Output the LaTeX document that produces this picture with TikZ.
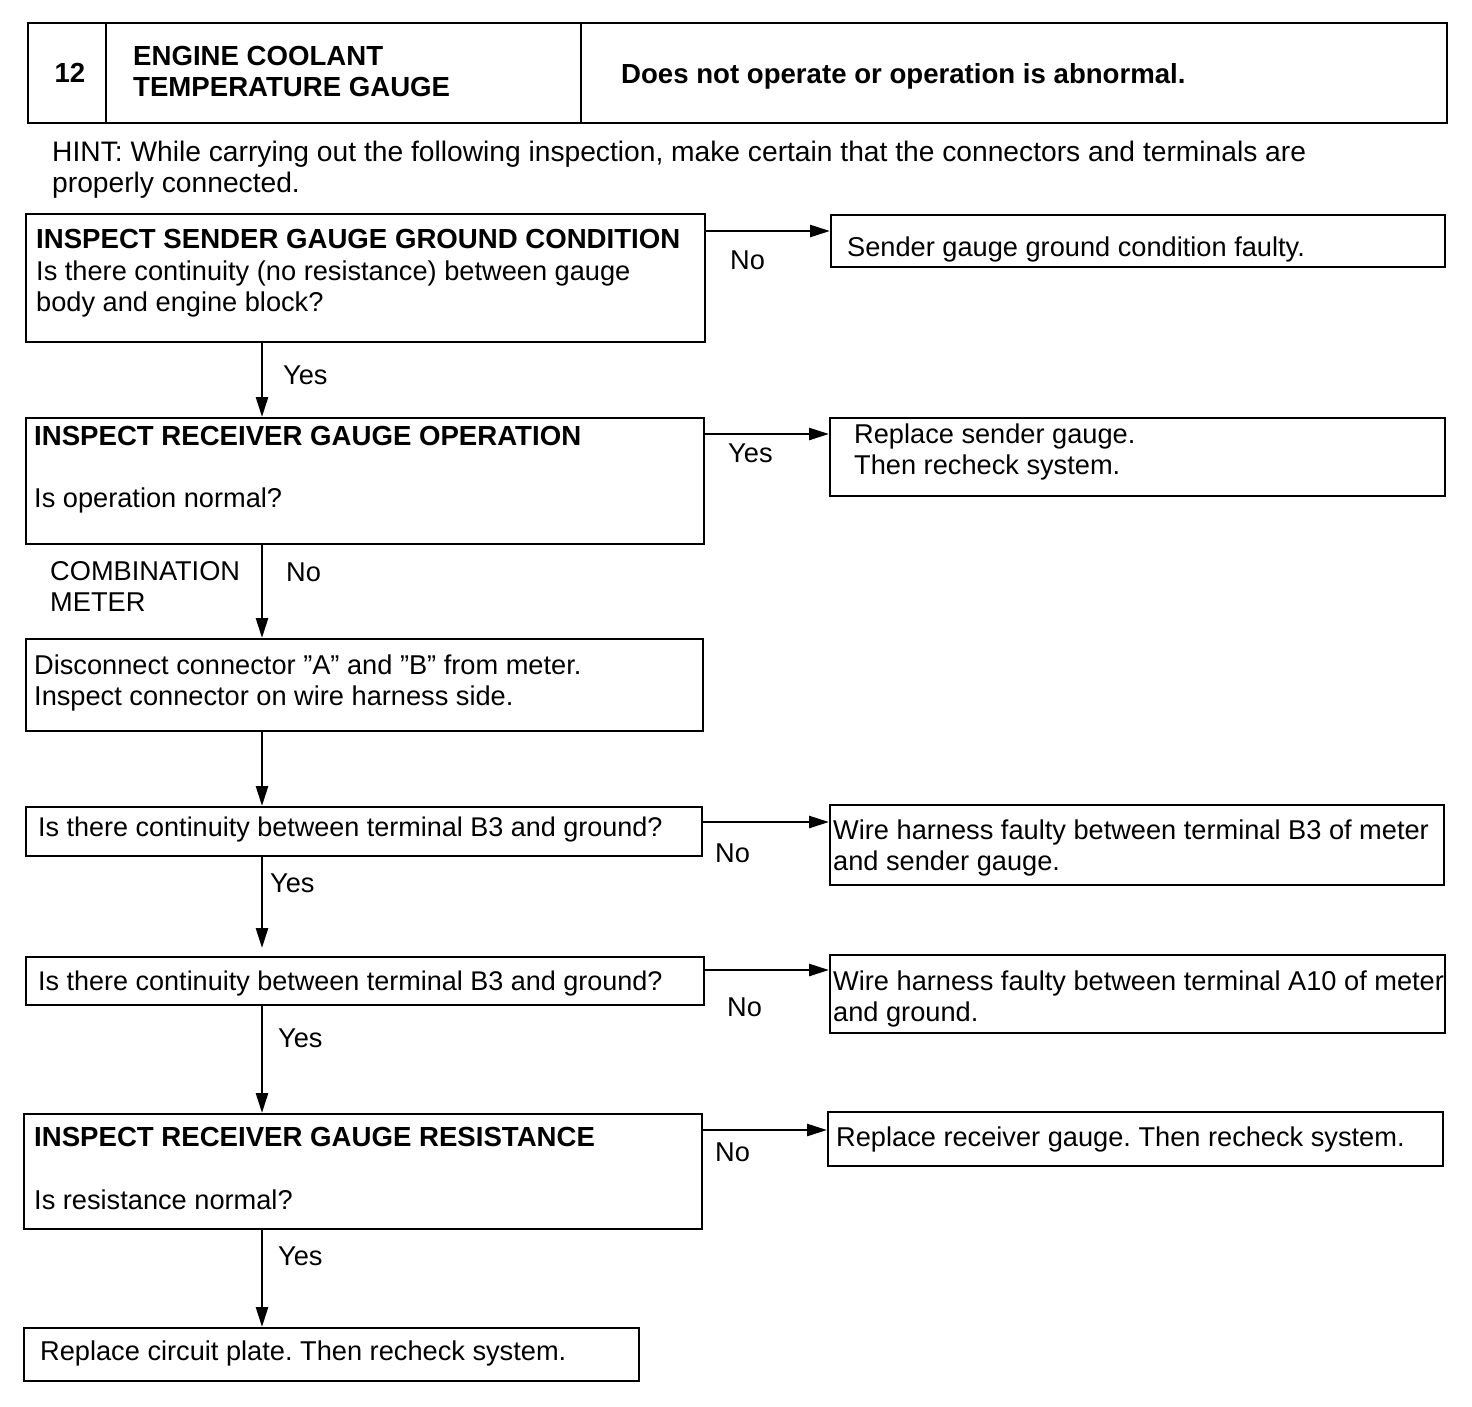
\documentclass[tikz,border=0pt]{standalone}
\usepackage{fontspec}
\setmainfont{Liberation Sans}
\usetikzlibrary{arrows.meta}
\frenchspacing
\begin{document}
\begin{tikzpicture}[x=1pt,y=-1pt,
  box/.style={draw, line width=1.8pt, inner sep=0pt, anchor=north west},
  txt/.style={inner sep=0pt, anchor=base west, align=left, font=\fontsize{27.2}{31}\selectfont},
  btxt/.style={txt, font=\fontsize{27.6}{31}\selectfont\bfseries},
  lbl/.style={txt},
  arr/.style={line width=2.6pt, -{Triangle[length=20pt,width=12pt]}}]
\useasboundingbox (0,0) rectangle (1472,1406);
\fill[white] (0,0) rectangle (1472,1406);
% header
\node[box, line width=2.2pt, minimum width=1419pt, minimum height=100pt] (hdr) at (27,22) {};
\coordinate (d1) at (106,0);
\coordinate (d2) at (581,0);
\draw[line width=2.2pt] (hdr.north -| d1) -- (hdr.south -| d1);
\draw[line width=2.2pt] (hdr.north -| d2) -- (hdr.south -| d2);
\node[btxt, anchor=base] (num) at (70,82) {12};
\node[btxt] (title) at (133,96) {ENGINE COOLANT\\TEMPERATURE GAUGE};
\node[btxt] (sym) at (621,83) {Does not operate or operation is abnormal.};
\node[txt, font=\fontsize{28.2}{31}\selectfont] (hint) at (52,192) {HINT: While carrying out the following inspection, make certain that the connectors and terminals are\\properly connected.};
% boxes
\node[box, minimum width=679pt, minimum height=128pt] (b1) at (25,213) {};
\node[box, minimum width=614pt, minimum height=52pt] (r1) at (830,214) {};
\node[box, minimum width=678pt, minimum height=126pt] (b2) at (25,417) {};
\node[box, minimum width=615pt, minimum height=78pt] (r2) at (829,417) {};
\node[box, minimum width=677pt, minimum height=92pt] (b3) at (25,638) {};
\node[box, minimum width=676pt, minimum height=49pt] (b4) at (25,806) {};
\node[box, minimum width=614pt, minimum height=80pt] (r4) at (829,804) {};
\node[box, minimum width=678pt, minimum height=48pt] (b5) at (25,956) {};
\node[box, minimum width=615pt, minimum height=78pt] (r5) at (829,954) {};
\node[box, minimum width=678pt, minimum height=115pt] (b6) at (23,1113) {};
\node[box, minimum width=615pt, minimum height=54pt] (r6) at (827,1111) {};
\node[box, minimum width=615pt, minimum height=53pt] (b7) at (23,1327) {};
% texts
\node[btxt] (t1a) at (36,248) {INSPECT SENDER GAUGE GROUND CONDITION};
\node[txt] (t1b) at (36,311) {Is there continuity (no resistance) between gauge\\body and engine block?};
\node[txt] (tr1) at (847,256) {Sender gauge ground condition faulty.};
\node[btxt] (t2a) at (34,445) {INSPECT RECEIVER GAUGE OPERATION};
\node[txt] (t2b) at (34,507) {Is operation normal?};
\node[txt] (tr2) at (854,474) {Replace sender gauge.\\Then recheck system.};
\node[txt] (cm) at (50,611) {COMBINATION\\METER};
\node[txt] (t3) at (34,705) {Disconnect connector "A" and "B" from meter.\\Inspect connector on wire harness side.};
\node[txt, font=\fontsize{27}{31}\selectfont] (t4) at (38,836) {Is there continuity between terminal B3 and ground?};
\node[txt] (tr4) at (833,870) {Wire harness faulty between terminal B3 of meter\\and sender gauge.};
\node[txt, font=\fontsize{27}{31}\selectfont] (t5) at (38,990) {Is there continuity between terminal B3 and ground?};
\node[txt] (tr5) at (833,1021) {Wire harness faulty between terminal A10 of meter\\and ground.};
\node[btxt] (t6a) at (34,1146) {INSPECT RECEIVER GAUGE RESISTANCE};
\node[txt] (t6b) at (34,1209) {Is resistance normal?};
\node[txt] (tr6) at (836,1146) {Replace receiver gauge. Then recheck system.};
\node[txt] (t7) at (40,1360) {Replace circuit plate. Then recheck system.};
% connectors
\coordinate (sp) at (262,0);
\coordinate (h1) at (0,231);
\coordinate (h2) at (0,434);
\coordinate (h4) at (0,822);
\coordinate (h5) at (0,970);
\coordinate (h6) at (0,1130);
\draw[arr] (b1.east |- h1) -- (r1.west |- h1);
\draw[arr] (b2.east |- h2) -- (r2.west |- h2);
\draw[arr] (b4.east |- h4) -- (r4.west |- h4);
\draw[arr] (b5.east |- h5) -- (r5.west |- h5);
\draw[arr] (b6.east |- h6) -- (r6.west |- h6);
\draw[arr] (b1.south -| sp) -- (b2.north -| sp);
\draw[arr] (b2.south -| sp) -- (b3.north -| sp);
\draw[arr] (b3.south -| sp) -- (b4.north -| sp);
\draw[arr] (b4.south -| sp) -- ([yshift=8pt]b5.north -| sp);
\draw[arr] (b5.south -| sp) -- (b6.north -| sp);
\draw[arr] (b6.south -| sp) -- (b7.north -| sp);
% labels
\node[lbl] (l1) at (730,269) {No};
\node[lbl] (l2) at (283,384) {Yes};
\node[lbl] (l3) at (728,462) {Yes};
\node[lbl] (l4) at (286,581) {No};
\node[lbl] (l5) at (715,862) {No};
\node[lbl] (l6) at (270,892) {Yes};
\node[lbl] (l7) at (727,1016) {No};
\node[lbl] (l8) at (278,1047) {Yes};
\node[lbl] (l9) at (715,1161) {No};
\node[lbl] (l10) at (278,1265) {Yes};
\end{tikzpicture}
\end{document}
